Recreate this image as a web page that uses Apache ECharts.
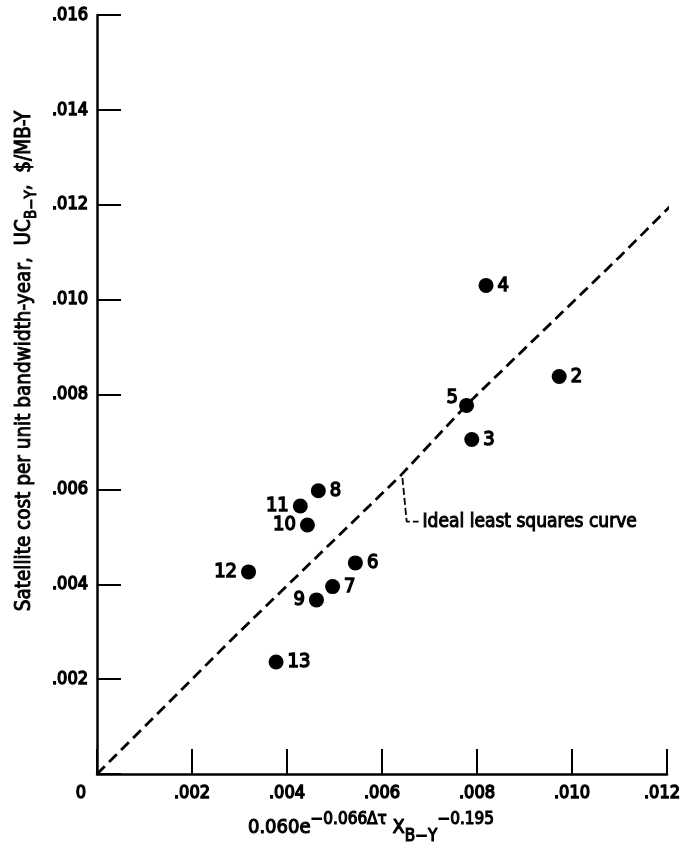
<!DOCTYPE html>
<html><head><meta charset="utf-8">
<script src="https://cdn.jsdelivr.net/npm/echarts@6/dist/echarts.min.js"></script>
<style>html,body{margin:0;padding:0;background:#fff}#c{width:682px;height:849px}</style>
</head><body><div id="c"></div>
<script>
// ---- data ----
const pointLabels = ['2','3','4','5','6','7','8','9','10','11','12','13'];
const xValues = [0.00973,0.00789,0.00819,0.00778,0.00544,0.00496,0.00466,0.00462,0.00443,0.00428,0.00319,0.00377];
const yValues = [0.00838,0.00705,0.01030,0.00777,0.00445,0.00395,0.00597,0.00367,0.00525,0.00565,0.00426,0.00236];
const labelSides = ['right','right','right','upleft','right','right','right','left','left','left','left','right'];
const curveX = [0, 0.0029, 0.0064, 0.0078, 0.0110, 0.0123];
const curveY = [0, 0.0029, 0.0063, 0.0078, 0.0109, 0.0122];
const leaderX = [0.00643, 0.00652, 0.00677];
const leaderY = [0.00624, 0.00532, 0.00532];
const xTickLabels = ['', '.002', '.004', '.006', '.008', '.010', '.012'];
const yTickLabels = ['', '.002', '.004', '.006', '.008', '.010', '.012', '.014', '.016'];
const annotationText = 'Ideal least squares curve';

const FONT = '"DejaVu Sans Condensed","Liberation Sans Narrow",sans-serif';
const BOLD = {fontFamily: FONT, color: '#000', textBorderColor: '#000', textBorderWidth: 1.4};
const chart = echarts.init(document.getElementById('c'));

const scatterData = xValues.map((x, i) => {
  const side = labelSides[i];
  let label;
  if (side === 'right') label = {position: 'right', distance: 4};
  else if (side === 'left') label = {position: 'left', distance: 4};
  else label = {position: 'left', distance: 1, offset: [0, -8]};
  return {value: [x, yValues[i]], name: pointLabels[i], label};
});

const option = {
  animation: false,
  backgroundColor: '#fff',
  grid: {left: 97, right: 15, top: 15, bottom: 75, containLabel: false, outerBoundsMode: 'none'},
  xAxis: {
    type: 'value', min: 0, max: 0.012, interval: 0.002,
    splitLine: {show: false},
    axisLine: {show: true, onZero: false, lineStyle: {color: '#000', width: 2.5}},
    axisTick: {show: true, inside: true, length: 25, lineStyle: {color: '#000', width: 2}},
    axisLabel: Object.assign({fontSize: 18, margin: 10,
      formatter: (v) => {
        const k = Math.round(v / 0.002);
        const t = xTickLabels[k] || '';
        return k === xTickLabels.length - 1 ? '{last|' + t + '}' : t;
      },
      rich: {last: Object.assign({fontSize: 18, padding: [0, 10, 0, 0]}, BOLD)}
    }, BOLD),
    name: '{m|0.060e}{sup|\u22120.066\u0394\u03c4}{m| X}{sub|B\u2212Y}{sup|\u22120.195}',
    nameLocation: 'middle', nameGap: 37,
    nameTextStyle: Object.assign({fontSize: 19, lineHeight: 34, padding: [0, 22, 0, 0],
      rich: {
        m: Object.assign({fontSize: 20, verticalAlign: 'middle'}, BOLD, {textBorderWidth: 1.1}),
        sup: Object.assign({fontSize: 17, verticalAlign: 'top'}, BOLD, {textBorderWidth: 1.1}),
        sub: Object.assign({fontSize: 17, verticalAlign: 'bottom'}, BOLD, {textBorderWidth: 1.1})
      }}, BOLD)
  },
  yAxis: {
    type: 'value', min: 0, max: 0.016, interval: 0.002,
    splitLine: {show: false},
    axisLine: {show: true, onZero: false, lineStyle: {color: '#000', width: 2.5}},
    axisTick: {show: true, inside: true, length: 24, lineStyle: {color: '#000', width: 2}},
    axisLabel: Object.assign({fontSize: 18, margin: 9,
      formatter: (v) => yTickLabels[Math.round(v / 0.002)] || ''}, BOLD),
    name: '{m|Satellite cost per unit bandwidth-year,  UC}{sub|B\u2212Y}{m|,  $/MB-Y}',
    nameLocation: 'middle', nameGap: 57, nameRotate: 90,
    nameTextStyle: Object.assign({fontSize: 20.5, lineHeight: 30, padding: [0, 0, 0, 67],
      rich: {
        m: Object.assign({fontSize: 20.5, verticalAlign: 'middle'}, BOLD, {textBorderWidth: 0.9}),
        sub: Object.assign({fontSize: 15, verticalAlign: 'bottom'}, BOLD, {textBorderWidth: 0.9})
      }}, BOLD)
  },
  series: [
    {
      type: 'line', data: curveX.map((x, i) => [x, curveY[i]]),
      showSymbol: false, symbol: 'none', clip: false, silent: true,
      lineStyle: {color: '#000', width: 2.8, type: [11, 6]}, z: 2
    },
    {
      type: 'line', data: leaderX.map((x, i) => [x, leaderY[i]]),
      showSymbol: false, symbol: 'none', silent: true,
      lineStyle: {color: '#000', width: 1.8, type: [7, 3]}, z: 2,
      endLabel: Object.assign({show: true, formatter: annotationText, fontSize: 19, distance: 4},
        BOLD, {textBorderWidth: 1.0})
    },
    {
      type: 'scatter', data: scatterData, symbol: 'circle', symbolSize: 15,
      itemStyle: {color: '#000', opacity: 1}, z: 5,
      label: Object.assign({show: true, formatter: (p) => p.name, fontSize: 20}, BOLD)
    }
  ]
};
chart.setOption(option);
const o = chart.convertToPixel({gridIndex: 0}, [0, 0]);
chart.setOption({
  graphic: [{
    type: 'text', x: o[0] - 16, y: o[1] + 19,
    style: {text: '0', font: 'normal 18px ' + FONT, fill: '#000', stroke: '#000', lineWidth: 1.4,
            align: 'center', verticalAlign: 'middle'}
  }]
});
</script></body></html>
